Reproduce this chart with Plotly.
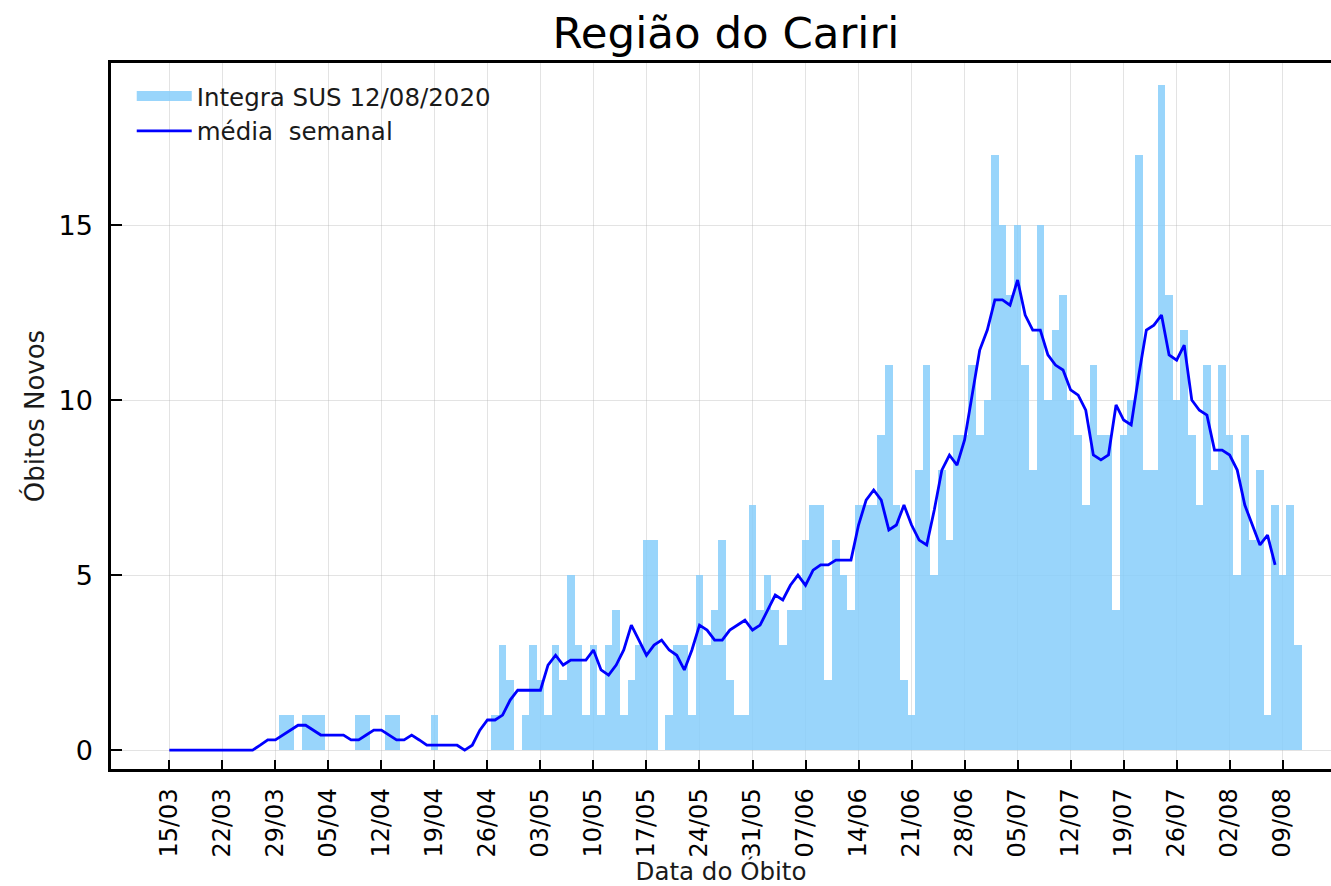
import pandas as pd
import plotly.graph_objects as go

# ---- data (daily new deaths, starting 15/03/2020) ----
start_date = "2020-03-15"
deaths_mar = [0, 0, 0, 0, 0, 0, 0, 0, 0, 0, 0, 0, 0, 0, 0, 1, 1]
deaths_apr = [0, 1, 1, 1, 0, 0, 0, 0, 1, 1, 0, 0, 1, 1, 0, 0, 0, 0, 1, 0,
              0, 0, 0, 0, 0, 0, 1, 3, 2, 0]
deaths_may = [1, 3, 2, 1, 3, 2, 5, 3, 1, 3, 1, 3, 4, 1, 2, 3, 6, 6, 0, 1,
              3, 3, 1, 5, 3, 4, 6, 2, 1, 1, 7]
deaths_jun = [4, 5, 4, 3, 4, 4, 6, 7, 7, 2, 6, 5, 4, 7, 7, 7, 9, 11, 7, 2,
              1, 8, 11, 5, 8, 6, 9, 9, 11, 9]
deaths_jul = [10, 17, 15, 13, 15, 11, 8, 15, 10, 12, 13, 10, 9, 7, 11, 9, 9, 4, 9, 10,
              17, 8, 8, 19, 13, 10, 12, 9, 7, 11, 8]
deaths_aug = [11, 9, 5, 9, 6, 8, 1, 7, 5, 7, 3]

# weekly average (média semanal), starting 15/03/2020
avg_mar = [0, 0, 0, 0, 0, 0, 0, 0, 0, 0, 0, 0, 0.14, 0.29, 0.29, 0.43, 0.57]
avg_apr = [0.71, 0.71, 0.57, 0.43, 0.43, 0.43, 0.43, 0.29, 0.29, 0.43, 0.57, 0.57,
           0.43, 0.29, 0.29, 0.43, 0.29, 0.14, 0.14, 0.14, 0.14, 0.14, 0, 0.14,
           0.57, 0.86, 0.86, 1.0, 1.43, 1.71]
avg_may = [1.71, 1.71, 1.71, 2.43, 2.71, 2.43, 2.57, 2.57, 2.57, 2.86, 2.29, 2.14,
           2.43, 2.86, 3.57, 3.14, 2.71, 3.0, 3.14, 2.86, 2.71, 2.29, 2.86, 3.57,
           3.43, 3.14, 3.14, 3.43, 3.57, 3.71, 3.43]
avg_jun = [3.57, 4.0, 4.43, 4.29, 4.71, 5.0, 4.71, 5.14, 5.29, 5.29, 5.43, 5.43,
           5.43, 6.43, 7.14, 7.43, 7.14, 6.29, 6.43, 7.0, 6.43, 6.0, 5.86, 6.86,
           8.0, 8.43, 8.14, 8.86, 10.14, 11.43]
avg_jul = [12.0, 12.86, 12.86, 12.71, 13.43, 12.43, 12.0, 12.0, 11.29, 11.0, 10.86,
           10.29, 10.14, 9.71, 8.43, 8.29, 8.43, 9.86, 9.43, 9.29, 10.71, 12.0,
           12.14, 12.43, 11.29, 11.14, 11.57, 10.0, 9.71, 9.57, 8.57]
avg_aug = [8.57, 8.43, 8.0, 7.0, 6.43, 5.86, 6.14, 5.29]

tick_dates = ["2020-03-15", "2020-03-22", "2020-03-29", "2020-04-05", "2020-04-12",
              "2020-04-19", "2020-04-26", "2020-05-03", "2020-05-10", "2020-05-17",
              "2020-05-24", "2020-05-31", "2020-06-07", "2020-06-14", "2020-06-21",
              "2020-06-28", "2020-07-05", "2020-07-12", "2020-07-19", "2020-07-26",
              "2020-08-02", "2020-08-09"]
tick_labels = ["15/03", "22/03", "29/03", "05/04", "12/04", "19/04", "26/04", "03/05",
               "10/05", "17/05", "24/05", "31/05", "07/06", "14/06", "21/06", "28/06",
               "05/07", "12/07", "19/07", "26/07", "02/08", "09/08"]
y_ticks = [0, 5, 10, 15]

deaths = deaths_mar + deaths_apr + deaths_may + deaths_jun + deaths_jul + deaths_aug
weekly = avg_mar + avg_apr + avg_may + avg_jun + avg_jul + avg_aug
bar_dates = pd.date_range(start_date, periods=len(deaths), freq="D")
avg_dates = pd.date_range(start_date, periods=len(weekly), freq="D")

FONT = "DejaVu Sans"
DAY_MS = 86400000
BAR_COLOR = "rgba(135,206,250,0.85)"

fig = go.Figure()
fig.add_trace(go.Bar(
    x=bar_dates, y=deaths, width=DAY_MS,
    marker=dict(color=BAR_COLOR, line=dict(width=0)),
    name="Integra SUS 12/08/2020", showlegend=False,
))
# legend entry for the bars (wide patch like the original)
fig.add_trace(go.Scatter(
    x=[None], y=[None], mode="lines",
    line=dict(color=BAR_COLOR, width=16),
    name="Integra SUS 12/08/2020", hoverinfo="skip",
))
fig.add_trace(go.Scatter(
    x=avg_dates, y=weekly, mode="lines",
    line=dict(color="#0000ff", width=2.8),
    name="média\u00a0 semanal",
))

t0 = pd.Timestamp(start_date)
x_range = [t0 + pd.Timedelta(days=-7.70), t0 + pd.Timedelta(days=153.38)]

fig.update_layout(
    width=1331, height=886,
    margin=dict(l=111, r=0, t=63, b=117),
    paper_bgcolor="white", plot_bgcolor="white",
    font=dict(family=FONT, color="black", size=24),
    bargap=0,
    showlegend=True,
    title=dict(text="Região do Cariri", x=726 / 1331, xanchor="center",
               y=1 - 33 / 886, yanchor="middle", xref="container", yref="container",
               font=dict(family=FONT, size=43.5, color="black")),
    legend=dict(x=0.017, y=0.985, xanchor="left", yanchor="top",
                bgcolor="rgba(0,0,0,0)", borderwidth=0,
                font=dict(family=FONT, size=24.5, color="#1a1a1a"),
                itemwidth=55, tracegroupgap=0),
)
fig.update_xaxes(
    type="date", range=x_range,
    tickvals=tick_dates, ticktext=tick_labels, tickangle=-90,
    ticks="inside", ticklen=9, tickwidth=1.5, tickcolor="black",
    showline=True, linecolor="black", linewidth=2.5, mirror=True,
    showgrid=True, gridcolor="rgba(176,176,176,0.35)", gridwidth=1.2,
    zeroline=False, ticklabelstandoff=7,
    tickfont=dict(family=FONT, size=24, color="black"),
    title=dict(text="Data do Óbito", standoff=8,
               font=dict(family=FONT, size=24.5, color="#1a1a1a")),
    automargin=False,
)
fig.update_yaxes(
    range=[-0.54, 19.63], tickvals=y_ticks,
    ticks="inside", ticklen=11, tickwidth=1.5, tickcolor="black",
    showline=True, linecolor="black", linewidth=2.5, mirror=False,
    showgrid=True, gridcolor="rgba(176,176,176,0.35)", gridwidth=1.2,
    zeroline=False, ticklabelstandoff=10,
    tickfont=dict(family=FONT, size=27, color="black"),
    title=dict(text="Óbitos Novos", standoff=7,
               font=dict(family=FONT, size=26, color="#1a1a1a")),
    automargin=False,
)

fig.write_html("out.html", config={"displayModeBar": False},
               post_script="document.body.style.margin='0';document.body.style.overflow='hidden';")
